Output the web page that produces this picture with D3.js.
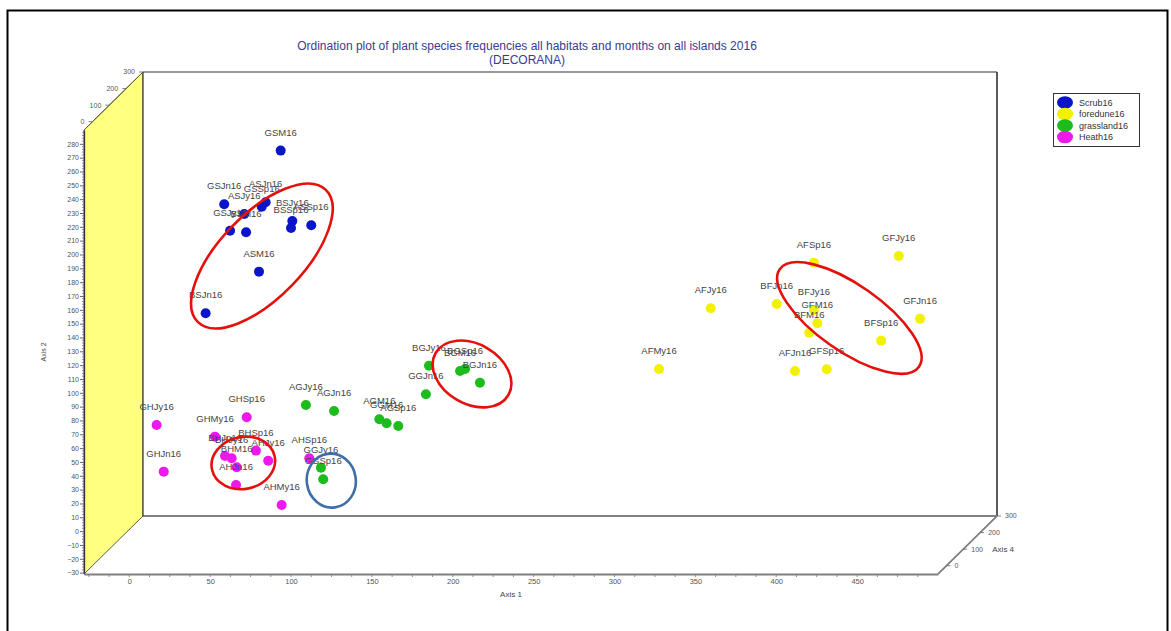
<!DOCTYPE html>
<html>
<head>
<meta charset="utf-8">
<script src="https://cdn.jsdelivr.net/npm/d3@7"></script>
<style>
  html, body { margin: 0; padding: 0; background: #fff; }
  svg { display: block; font-family: "Liberation Sans", Arial, sans-serif; }
</style>
</head>
<body>
<svg id="chart" width="1171" height="631"></svg>
<script>
// ---- Sample scores (DECORANA axis 1 / axis 2) per habitat ----
const habitats = ["Scrub16", "foredune16", "grassland16", "Heath16"];

const scrubNames = ["GSM16", "GSJn16", "ASJn16", "GSSp16", "ASJy16", "GSJy16", "BSM16", "BSJy16", "BSSp16", "ASSp16", "ASM16", "BSJn16"];
const scrubAxis1 = [93.6, 58.7, 84.3, 81.9, 71.1, 62.3, 72.2, 100.8, 100.0, 112.5, 80.2, 47.2];
const scrubAxis2 = [275.1, 236.3, 237.8, 234.6, 229.3, 217.2, 216.1, 224.2, 219.2, 221.1, 187.6, 157.5];

const foreduneNames = ["GFJy16", "AFSp16", "AFJy16", "BFJn16", "BFJy16", "GFM16", "BFM16", "GFJn16", "BFSp16", "AFMy16", "AFJn16", "GFSp16"];
const foreduneAxis1 = [475.7, 423.3, 359.5, 400.3, 423.3, 425.4, 420.4, 488.9, 464.9, 327.5, 411.6, 431.2];
const foreduneAxis2 = [198.9, 194.1, 161.1, 164.2, 159.9, 150.3, 143.5, 153.6, 137.7, 117.2, 115.8, 117.0];

const grasslandNames = ["AGJy16", "AGJn16", "GGJy16", "GGSp16", "AGM16", "GGM16", "AGSp16", "GGJn16", "BGJy16", "BGM16", "BGSp16", "BGJn16"];
const grasslandAxis1 = [109.2, 126.6, 118.5, 119.9, 154.6, 159.1, 166.3, 183.4, 185.3, 204.5, 207.6, 216.8];
const grasslandAxis2 = [91.2, 86.9, 45.9, 37.5, 80.9, 78.0, 76.0, 98.9, 119.6, 115.8, 117.2, 107.3];

const heathNames = ["GHJy16", "GHJn16", "GHSp16", "GHMy16", "BHJn16", "BHJy16", "BHM16", "BHSp16", "AHJy16", "AHJn16", "AHMy16", "AHSp16"];
const heathAxis1 = [16.9, 21.3, 72.6, 53.0, 59.2, 63.3, 66.4, 78.3, 85.9, 66.0, 94.2, 111.3];
const heathAxis2 = [76.7, 43.0, 82.3, 68.3, 54.3, 52.7, 46.2, 58.2, 50.9, 33.4, 18.9, 52.7];

// Tick values
const axis2Ticks = d3.range(-30, 281, 10);
const axis1Ticks = d3.range(0, 451, 50);
const axis4Ticks = [0, 100, 200, 300];

// Hand-drawn group outlines: centre in axis units
const ringCenters1 = [82.0, 70.5, 124.9, 211.9, 445.2];
const ringCenters2 = [198.9, 49.3, 36.5, 113.6, 154.1];

// ---- Build per-sample rows ----
const sets = [
  [scrubNames, scrubAxis1, scrubAxis2],
  [foreduneNames, foreduneAxis1, foreduneAxis2],
  [grasslandNames, grasslandAxis1, grasslandAxis2],
  [heathNames, heathAxis1, heathAxis2]
];
const samples = [];
sets.forEach(([names, a1, a2], gi) => {
  names.forEach((n, i) => samples.push({ name: n, habitat: habitats[gi], a1: a1[i], a2: a2[i] }));
});

const color = d3.scaleOrdinal()
  .domain(habitats)
  .range(["#0a14c8", "#f2f200", "#1cbc1c", "#ec18ec"]);

// ---- Scales: front plane + depth (axis 4) offset ----
const x = d3.scaleLinear().domain([-28, 500]).range([84, 938]);
const y = d3.scaleLinear().domain([-31, 290]).range([574, 130]);
const depthDx = d3.scaleLinear().domain([-50, 300]).range([0, 59]);
const depthDy = d3.scaleLinear().domain([-50, 300]).range([0, -58]);

const svg = d3.select("#chart");

// Outer frame
svg.append("rect")
  .attr("x", 7.5).attr("y", 10.5).attr("width", 1160).attr("height", 660)
  .attr("fill", "none").attr("stroke", "#000").attr("stroke-width", 2);

// Title
const title = svg.append("text")
  .attr("text-anchor", "middle")
  .attr("fill", "#3a3a92")
  .attr("font-size", 12);
title.append("tspan").attr("x", 527).attr("y", 50)
  .text("Ordination plot of plant species frequencies all habitats and months on all islands 2016");
title.append("tspan").attr("x", 527).attr("y", 64).text("(DECORANA)");

// ---- 3D box ----
const x0 = x.domain()[0], x1 = x.domain()[1];
const y0 = y.domain()[0], y1 = y.domain()[1];
const dBack = 300, dFront = -50;
const bx = v => x(v) + depthDx(dBack);
const by = v => y(v) + depthDy(dBack);

// left wall (yellow)
svg.append("path")
  .attr("d", d3.line()([
    [x(x0), y(y1)], [bx(x0), by(y1)], [bx(x0), by(y0)], [x(x0), y(y0)]
  ]) + "Z")
  .attr("fill", "#ffff80")
  .attr("stroke", "#5e5e3a").attr("stroke-width", 1);

// back wall
svg.append("rect")
  .attr("x", bx(x0)).attr("y", by(y1))
  .attr("width", bx(x1) - bx(x0)).attr("height", by(y0) - by(y1))
  .attr("fill", "#fff").attr("stroke", "none");
svg.append("line") // top edge
  .attr("x1", bx(x0)).attr("y1", by(y1)).attr("x2", bx(x1)).attr("y2", by(y1))
  .attr("stroke", "#333").attr("stroke-width", 1);
svg.append("line") // right edge
  .attr("x1", bx(x1)).attr("y1", by(y1)).attr("x2", bx(x1)).attr("y2", by(y0))
  .attr("stroke", "#222").attr("stroke-width", 1.5);
svg.append("line") // bottom edge
  .attr("x1", bx(x0)).attr("y1", by(y0)).attr("x2", bx(x1)).attr("y2", by(y0))
  .attr("stroke", "#808080").attr("stroke-width", 2);
svg.append("line") // left edge
  .attr("x1", bx(x0)).attr("y1", by(y1)).attr("x2", bx(x0)).attr("y2", by(y0))
  .attr("stroke", "#333").attr("stroke-width", 1.2);

// floor right diagonal
svg.append("line")
  .attr("x1", x(x1)).attr("y1", y(y0)).attr("x2", bx(x1)).attr("y2", by(y0))
  .attr("stroke", "#808080").attr("stroke-width", 1.5);

// ---- Axis 2 (front-left vertical) ----
const minorY = d3.range(-30, 289, 2).filter(v => v % 10 !== 0);
const gY = svg.append("g").attr("transform", `translate(${x(x0)},0)`);
gY.selectAll("line.minor").data(minorY).join("line")
  .attr("class", "minor")
  .attr("x1", -2).attr("x2", 0)
  .attr("y1", d => y(d)).attr("y2", d => y(d))
  .attr("stroke", "#777").attr("stroke-width", 0.8);
const yAxis = d3.axisLeft(y).tickValues(axis2Ticks).tickSize(4).tickSizeOuter(0).tickPadding(1);
gY.call(yAxis);
gY.select(".domain").attr("stroke", "#333").attr("stroke-width", 1.3);
gY.selectAll(".tick line").attr("stroke", "#666");
gY.selectAll(".tick text").attr("fill", "#555").attr("font-size", 7)
  .attr("font-family", "\"Liberation Sans\", Arial, sans-serif");

svg.append("text")
  .attr("transform", `translate(46,${(y(y0) + y(y1)) / 2}) rotate(-90)`)
  .attr("text-anchor", "middle")
  .attr("fill", "#444").attr("font-size", 7)
  .text("Axis 2");

// ---- Axis 1 (front bottom) ----
const gX = svg.append("g").attr("transform", `translate(0,${y(y0)})`);
const minorX = d3.range(-25, 490, 12.5);
gX.selectAll("line.minor").data(minorX).join("line")
  .attr("class", "minor")
  .attr("x1", d => x(d)).attr("x2", d => x(d))
  .attr("y1", 0).attr("y2", 3)
  .attr("stroke", "#777").attr("stroke-width", 0.8);
const xAxis = d3.axisBottom(x).tickValues(axis1Ticks).tickSize(0).tickSizeOuter(0).tickPadding(5);
gX.call(xAxis);
gX.select(".domain").attr("stroke", "#808080").attr("stroke-width", 2);
gX.selectAll(".tick text").attr("fill", "#555").attr("font-size", 7.5)
  .attr("font-family", "\"Liberation Sans\", Arial, sans-serif");

svg.append("text")
  .attr("x", 511).attr("y", 597)
  .attr("text-anchor", "middle")
  .attr("fill", "#444").attr("font-size", 8)
  .text("Axis 1");

// ---- Axis 4 (depth) on the top-left edge and the bottom-right edge ----
function depthAxis(ax, ay, side) {
  const g = svg.append("g");
  g.append("line")
    .attr("x1", ax + depthDx(dFront)).attr("y1", ay + depthDy(dFront))
    .attr("x2", ax + depthDx(dBack)).attr("y2", ay + depthDy(dBack))
    .attr("stroke", side < 0 ? "#5e5e3a" : "#808080").attr("stroke-width", side < 0 ? 1 : 1.5);
  const t = g.selectAll("g.t").data(axis4Ticks).join("g")
    .attr("transform", d => `translate(${ax + depthDx(d)},${ay + depthDy(d)})`);
  t.append("line")
    .attr("x1", 0).attr("y1", 0)
    .attr("x2", side * 4).attr("y2", 0)
    .attr("stroke", "#666").attr("stroke-width", 0.8);
  t.append("text")
    .attr("x", side * 8).attr("dy", "0.35em")
    .attr("text-anchor", side < 0 ? "end" : "start")
    .attr("fill", "#555").attr("font-size", 7)
    .text(d => d);
  return g;
}
depthAxis(x(x0), y(y1), -1);
depthAxis(x(x1), y(y0), 1);
svg.append("text")
  .attr("x", x(x1) + depthDx(100) + 29).attr("y", y(y0) + depthDy(100))
  .attr("dy", "0.35em")
  .attr("fill", "#444").attr("font-size", 8)
  .text("Axis 4");

// ---- Sample points and labels ----
const gPts = svg.append("g");
gPts.selectAll("circle").data(samples).join("circle")
  .attr("cx", d => x(d.a1)).attr("cy", d => y(d.a2))
  .attr("r", 5)
  .attr("fill", d => color(d.habitat));

gPts.selectAll("text").data(samples).join("text")
  .attr("x", d => x(d.a1)).attr("y", d => y(d.a2) - 15)
  .attr("text-anchor", "middle")
  .attr("fill", "#444").attr("font-size", 9.5)
  .text(d => d.name);

// ---- Group outlines ----
const ringRx = [92, 32, 24.5, 42, 85];
const ringRy = [42, 26, 27, 30, 33];
const ringAngle = [-46, -12, -8, 30, 35];
const ringStroke = ["#e5100c", "#e5100c", "#3e6ea6", "#e5100c", "#e5100c"];
svg.append("g").selectAll("ellipse").data(ringCenters1).join("ellipse")
  .attr("transform", (d, i) => `translate(${x(d)},${y(ringCenters2[i])}) rotate(${ringAngle[i]})`)
  .attr("rx", (d, i) => ringRx[i]).attr("ry", (d, i) => ringRy[i])
  .attr("fill", "none")
  .attr("stroke", (d, i) => ringStroke[i])
  .attr("stroke-width", 2.6);

// ---- Legend ----
const lg = svg.append("g");
lg.append("rect")
  .attr("x", 1053.5).attr("y", 93.5).attr("width", 86).attr("height", 53)
  .attr("fill", "#fff").attr("stroke", "#333").attr("stroke-width", 1);
const item = lg.selectAll("g.item").data(habitats).join("g")
  .attr("transform", (d, i) => `translate(1065,${102.5 + i * 11.5})`);
item.append("ellipse").attr("rx", 8).attr("ry", 6.3).attr("fill", d => color(d));
item.append("text")
  .attr("x", 14).attr("dy", "0.35em")
  .attr("fill", "#333").attr("font-size", 9)
  .text(d => d);
</script>
</body>
</html>
